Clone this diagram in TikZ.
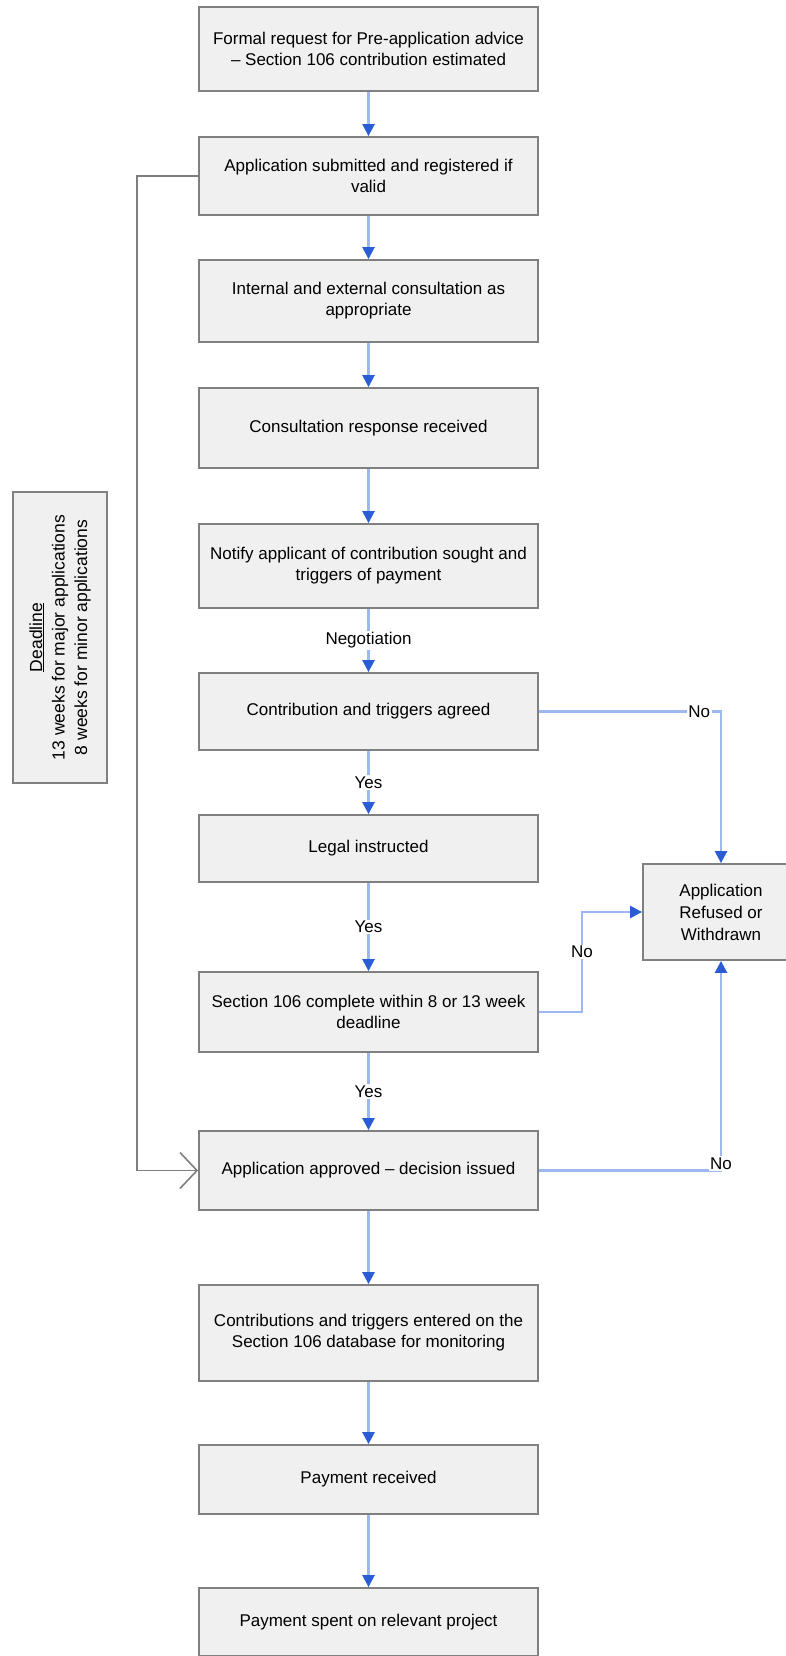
\documentclass[tikz,border=0pt]{standalone}
\usepackage{fontspec}
\setmainfont{Liberation Sans}
\usetikzlibrary{arrows.meta}
\definecolor{boxfill}{HTML}{F0F0F0}
\definecolor{boxline}{HTML}{808080}
\definecolor{flowline}{HTML}{9DB8F0}
\definecolor{flowtip}{HTML}{2A5CD6}
\definecolor{connline}{HTML}{7F7F7F}
\begin{document}
\begin{tikzpicture}[x=1pt,y=-1pt,
  txt/.style={font=\fontsize{17}{21}\selectfont},
  basebox/.style={draw=boxline, fill=boxfill, line width=1.8pt, align=center, inner sep=0pt, txt},
  stepbox/.style={basebox, minimum width=339pt},
  flow/.style={draw=flowline, line width=2.4pt, -{Triangle[length=12pt,width=12pt,color=flowtip]}},
  conn/.style={draw=connline, line width=1.8pt, -{Straight Barb[length=17pt,width=36pt,line width=1.6pt]}},
  lbl/.style={fill=white, inner sep=1.5pt, txt}]
\useasboundingbox (0,0) rectangle (785,1656);

\node[stepbox, minimum height=84pt] (b1) at (368.5,49) {Formal request for Pre-application advice\\– Section 106 contribution estimated};
\node[stepbox, minimum height=78pt] (b2) at (368.5,176) {Application submitted and registered if\\valid};
\node[stepbox, minimum height=82pt] (b3) at (368.5,301) {Internal and external consultation as\\appropriate};
\node[stepbox, minimum height=80pt] (b4) at (368.5,428) {Consultation response received};
\node[stepbox, minimum height=84pt] (b5) at (368.5,566) {Notify applicant of contribution sought and\\triggers of payment};
\node[stepbox, minimum height=77pt] (b6) at (368.5,711.5) {Contribution and triggers agreed};
\node[stepbox, minimum height=67pt] (b7) at (368.5,848.5) {Legal instructed};
\node[stepbox, minimum height=80pt] (b8) at (368.5,1012) {Section 106 complete within 8 or 13 week\\deadline};
\node[stepbox, minimum height=79pt] (b9) at (368.5,1170.5) {Application approved – decision issued};
\node[stepbox, minimum height=96pt] (b10) at (368.5,1333) {Contributions and triggers entered on the\\Section 106 database for monitoring};
\node[stepbox, minimum height=69pt] (b11) at (368.5,1479.5) {Payment received};
\node[stepbox, minimum height=68pt] (b12) at (368.5,1622) {Payment spent on relevant project};

\node[basebox, minimum width=156pt, minimum height=96pt, font=\fontsize{17}{22}\selectfont] (ref) at (721,912) {Application\\Refused or\\Withdrawn};

\node[basebox, rotate=90, minimum width=291pt, minimum height=94pt, font=\fontsize{17.5}{22.5}\selectfont] (dl) at (60,637.5) {\underline{Deadline}\\13 weeks for major applications\\8 weeks for minor applications};

\draw[flow] (b1) -- (b2);
\draw[flow] (b2) -- (b3);
\draw[flow] (b3) -- (b4);
\draw[flow] (b4) -- (b5);
\draw[flow] (b5) -- node[lbl] {Negotiation} (b6);
\draw[flow] (b6) -- node[lbl] {Yes} (b7);
\draw[flow] (b7) -- node[lbl] {Yes} (b8);
\draw[flow] (b8) -- node[lbl] {Yes} (b9);
\draw[flow] (b9) -- (b10);
\draw[flow] (b10) -- (b11);
\draw[flow] (b11) -- (b12);

\draw[flow] (b6.east) -| node[lbl, pos=0.44] {No} (ref.north);
\coordinate (c8) at (582,1012);
\draw[flow] (b8.east) -- (c8) |- node[lbl, pos=0.3] {No} (ref.west);
\draw[flow] (b9.east) -| node[lbl, pos=0.5, yshift=7pt] {No} (ref.south);

\coordinate (cl) at (137,176);
\draw[conn] (b2.west) -- (cl) |- (b9.west);
\end{tikzpicture}
\end{document}
